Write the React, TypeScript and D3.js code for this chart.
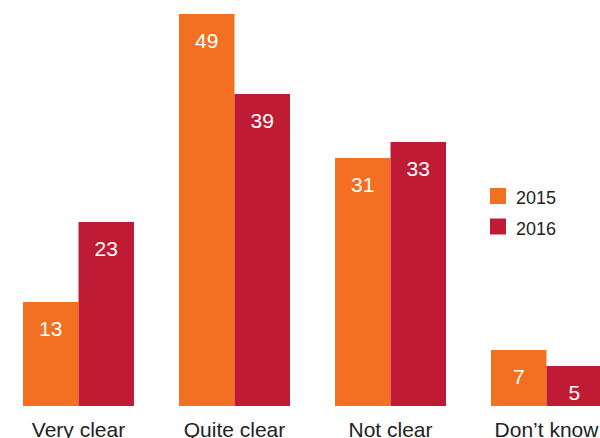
import React from "react";
import * as d3 from "d3";

const categories = ["Very clear", "Quite clear", "Not clear", "Don\u2019t know"];
const seriesNames = ["2015", "2016"];
const values2015 = [13, 49, 31, 7];
const values2016 = [23, 39, 33, 5];
const colors = ["#F36F21", "#C01B35"];

export default function App() {
  const W = 600, H = 438;
  const x = d3.scaleBand<string>().domain(categories).range([23, 602]).paddingInner(45 / 156).paddingOuter(0);
  const xi = d3.scaleBand<string>().domain(seriesNames).range([0, x.bandwidth()]).padding(0);
  const y = d3.scaleLinear().domain([0, 49]).range([406, 14]);
  const series = [values2015, values2016];
  const font = "'Liberation Sans', Arial, sans-serif";
  return (
    <svg width={W} height={H} style={{ position: "absolute", left: 0, top: 0 }} fontFamily={font}>
      {categories.map((c, ci) => (
        <g key={c} transform={`translate(${x(c)},0)`}>
          {seriesNames.map((s, si) => {
            const v = series[si][ci];
            const bx = xi(s)!;
            return (
              <g key={s}>
                <rect x={bx} y={y(v)} width={xi.bandwidth()} height={y(0) - y(v)} fill={colors[si]} />
                <text x={bx + xi.bandwidth() / 2} y={y(v) + 33.5} textAnchor="middle" fill="#fff" fontSize={21}>
                  {v}
                </text>
              </g>
            );
          })}
          <text x={x.bandwidth() / 2} y={436.5} textAnchor="middle" fill="#222" fontSize={21}>
            {c}
          </text>
        </g>
      ))}
      {seriesNames.map((s, si) => (
        <g key={s} transform={`translate(490,${188 + si * 30.5})`}>
          <rect x={0} y={0} width={16} height={16} fill={colors[si]} />
          <text x={26} y={16} fill="#222" fontSize={18}>
            {s}
          </text>
        </g>
      ))}
    </svg>
  );
}
